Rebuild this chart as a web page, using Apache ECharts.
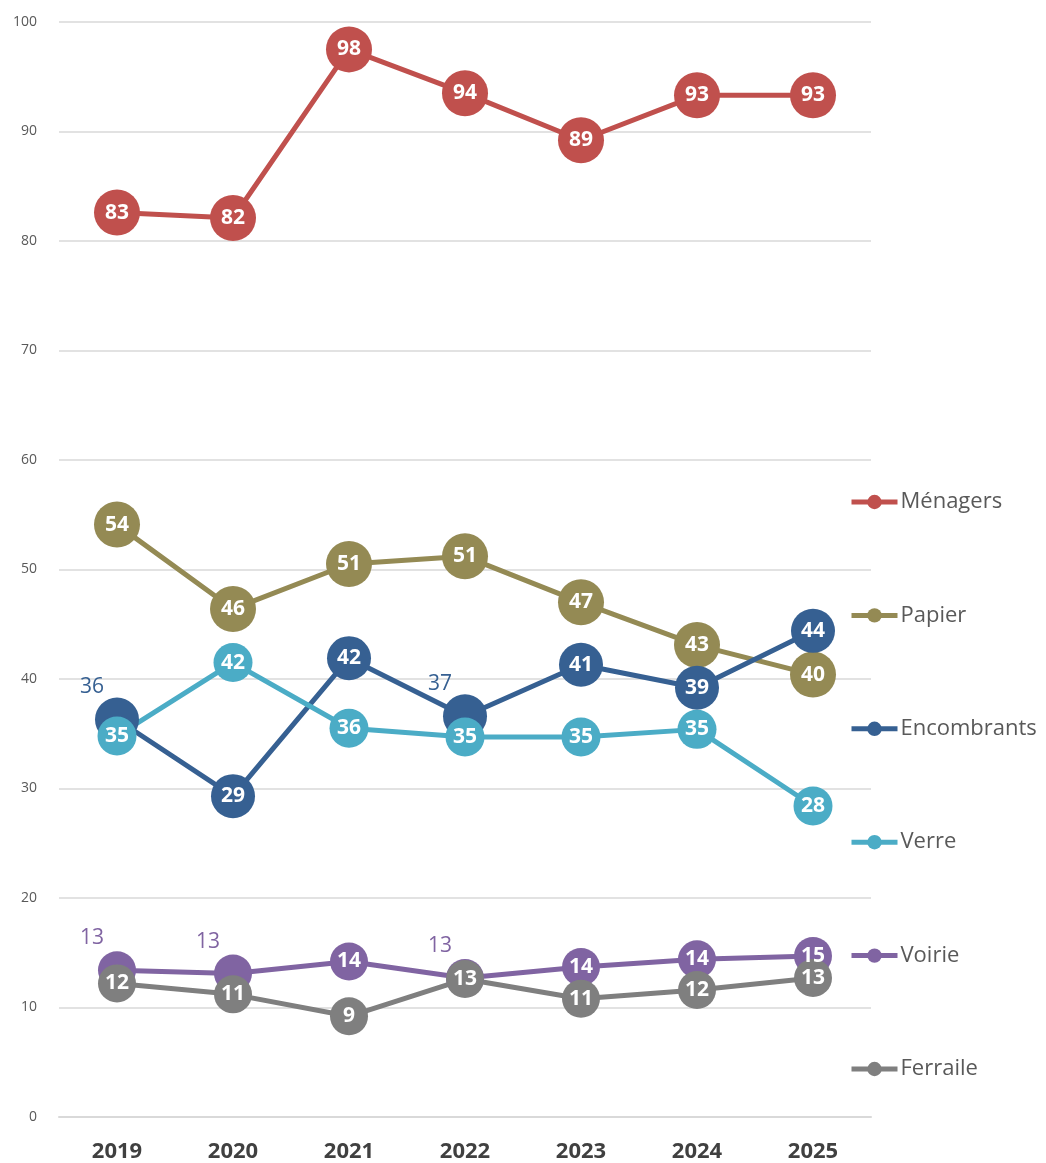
<!DOCTYPE html>
<html>
<head>
<meta charset="utf-8">
<script src="https://cdn.jsdelivr.net/npm/echarts@6/dist/echarts.min.js"></script>
<style>
html,body{margin:0;padding:0;background:#fff;}
#chart{width:1046px;height:1163px;}
</style>
</head>
<body>
<div id="chart"></div>
<script>
var years = ['2019', '2020', '2021', '2022', '2023', '2024', '2025'];
var menagers = [82.6, 82.1, 97.5, 93.5, 89.2, 93.3, 93.3];
var papier = [54.1, 46.4, 50.5, 51.2, 47.0, 43.1, 40.4];
var encombrants = [36.3, 29.3, 41.9, 36.6, 41.3, 39.2, 44.4];
var verre = [34.8, 41.5, 35.5, 34.7, 34.7, 35.4, 28.4];
var voirie = [13.4, 13.1, 14.2, 12.7, 13.7, 14.4, 14.7];
var ferraile = [12.2, 11.2, 9.2, 12.6, 10.8, 11.6, 12.7];
// indices whose label sits outside the (covered) marker
var encombrantsOutside = [0, 3];
var voirieOutside = [0, 1, 3];

var FONT = '"Open Sans", "Liberation Sans", sans-serif';

function makeSeries(name, values, color, size, outside) {
  outside = outside || [];
  return {
    name: name,
    type: 'line',
    data: values.map(function (v, i) {
      var item = { value: v };
      if (outside.indexOf(i) >= 0) {
        item.label = {
          position: 'inside',
          offset: [-25, -32],
          color: color,
          fontWeight: 'normal'
        };
      }
      return item;
    }),
    symbol: 'circle',
    symbolSize: size,
    itemStyle: { color: color },
    lineStyle: { color: color, width: 5 },
    emphasis: { disabled: true },
    animation: false,
    label: {
      show: true,
      position: 'inside',
      color: '#fff',
      fontWeight: 'bold',
      fontSize: 21,
      fontFamily: FONT,
      formatter: function (p) { return Math.round(p.value); }
    }
  };
}

var chart = echarts.init(document.getElementById('chart'));
chart.setOption({
  backgroundColor: '#fff',
  animation: false,
  grid: { left: 59, right: 175, top: 22, bottom: 46 },
  xAxis: {
    type: 'category',
    data: years,
    boundaryGap: true,
    axisLine: { show: true, lineStyle: { color: '#d9d9d9', width: 2 } },
    axisTick: { show: false },
    axisLabel: { color: '#404040', fontSize: 22, fontWeight: 'bold', fontFamily: FONT, margin: 24 }
  },
  yAxis: {
    type: 'value',
    min: 0,
    max: 100,
    interval: 10,
    axisLine: { show: false },
    axisTick: { show: false },
    axisLabel: { color: '#595959', fontSize: 14, fontFamily: FONT, margin: 22 },
    splitLine: { lineStyle: { color: '#d9d9d9', width: 1.5 } }
  },
  legend: {
    orient: 'vertical',
    left: 849,
    top: 491,
    padding: 0,
    itemWidth: 46,
    itemHeight: 18,
    itemGap: 91.4,
    lineStyle: { width: 5 },
    textStyle: { color: '#595959', fontSize: 22, fontFamily: FONT, padding: [0, 0, 0, -2] },
    data: ['Ménagers', 'Papier', 'Encombrants', 'Verre', 'Voirie', 'Ferraile']
  },
  series: [
    makeSeries('Ménagers', menagers, '#C0504D', 46),
    makeSeries('Papier', papier, '#948A54', 46),
    makeSeries('Encombrants', encombrants, '#366092', 44, encombrantsOutside),
    makeSeries('Verre', verre, '#4BACC6', 39),
    makeSeries('Voirie', voirie, '#8064A2', 38, voirieOutside),
    makeSeries('Ferraile', ferraile, '#7F7F7F', 38)
  ]
});
</script>
</body>
</html>
